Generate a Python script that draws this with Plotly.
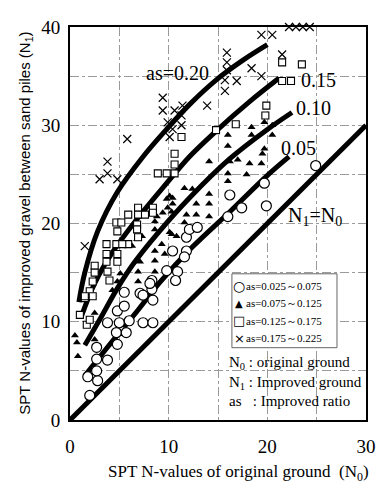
import plotly.graph_objects as go

# ---- data ----
circ_x = [2.0, 1.8, 2.8, 2.7, 2.7, 3.8, 2.7, 4.8, 5.1, 3.8, 5.0, 6.0, 7.4, 8.4, 4.7, 5.7, 4.8, 5.5, 7.1, 8.4,
          5.5, 7.4, 8.3, 8.3, 9.8, 10.9, 10.7, 10.4, 11.8, 11.8, 12.1, 12.9, 11.6, 16.0, 16.2, 17.4, 19.7, 19.9, 24.9, 8.1]
circ_y = [2.5, 4.4, 4.0, 5.0, 6.2, 6.1, 7.4, 7.7, 9.1, 9.9, 9.9, 10.1, 9.9, 9.9, 8.9, 8.9, 11.1, 11.6, 12.9, 12.2,
          13.0, 12.7, 13.3, 14.2, 15.2, 15.1, 14.2, 17.2, 17.2, 18.6, 19.4, 19.6, 16.6, 20.7, 22.9, 21.6, 24.1, 21.8, 25.9, 13.9]

tri_x = [0.5, 0.7, 0.8, 2.5, 2.5, 4.3, 4.8, 5.1, 6.9, 6.9, 7.1, 8.6, 8.6, 8.6, 9.6, 9.3, 6.3, 6.8, 7.3, 10.3,
         10.8, 8.6, 10.1, 8.6, 8.8, 9.4, 9.9, 10.3, 10.4, 9.8, 10.1, 10.4, 11.8, 11.6, 12.8, 14.1, 12.8, 14.1, 14.1, 11.6,
         12.4, 14.1, 16.2, 17.0, 18.2, 19.4, 16.0, 17.9, 16.0, 16.0, 16.0, 18.4, 18.4, 19.7, 19.7, 19.5, 20.5, 20.5]
tri_y = [8.6, 7.9, 6.5, 10.9, 8.2, 13.2, 14.1, 14.9, 14.1, 15.1, 16.1, 15.1, 16.2, 17.2, 16.9, 17.9, 17.7, 18.4, 18.7, 18.9,
         18.7, 19.4, 19.1, 20.2, 20.7, 21.1, 21.6, 21.2, 22.0, 22.5, 22.8, 22.6, 20.9, 20.1, 20.9, 20.7, 22.0, 22.0, 23.0, 23.6,
         23.5, 26.3, 26.3, 26.5, 26.1, 26.1, 25.1, 25.0, 24.3, 29.0, 27.9, 29.8, 29.0, 30.3, 27.6, 27.1, 30.0, 29.0]

sq_x = [21.5, 23.5, 21.5, 22.4, 19.9, 19.8, 16.8, 14.8, 11.3, 10.6, 10.6, 8.9, 9.8, 10.6, 6.9, 8.4, 8.4, 5.9, 6.9, 7.6,
        4.7, 5.2, 6.8, 4.8, 6.8, 6.9, 3.7, 4.7, 5.9, 5.3, 3.7, 4.8, 3.7, 4.8, 2.5, 3.8, 2.5, 2.3, 4.0, 2.0,
        1.5, 1.0, 1.7, 2.0, 1.5, 2.3]
sq_y = [36.4, 36.2, 34.5, 34.5, 32.0, 31.0, 30.1, 29.5, 28.8, 27.1, 26.0, 25.1, 25.1, 25.1, 21.6, 21.6, 21.1, 20.9, 20.9, 20.9,
        20.1, 20.1, 19.9, 19.2, 19.4, 18.6, 17.9, 17.9, 17.9, 17.9, 16.9, 16.9, 16.1, 16.1, 15.7, 15.1, 15.0, 14.1, 14.2, 13.1,
        12.4, 10.7, 9.7, 10.2, 12.6, 12.6]

xm_x = [1.5, 3.0, 3.8, 3.8, 4.8, 5.8, 9.4, 9.4, 10.6, 11.4, 11.3, 9.9, 11.3, 10.4, 10.1, 13.9, 15.9, 15.9, 15.9, 15.7,
        16.9, 15.7, 18.4, 19.4, 19.4, 20.5, 21.5, 22.2, 22.9, 23.6, 24.3]
xm_y = [17.7, 24.5, 25.1, 26.3, 24.5, 28.6, 32.8, 31.5, 31.5, 32.0, 31.0, 30.3, 30.0, 29.6, 28.8, 32.0, 37.4, 36.4, 35.6, 34.6,
        34.5, 33.5, 35.8, 35.0, 39.2, 39.2, 37.2, 40.0, 40.0, 40.0, 40.0]

# curves for each improvement ratio
c20_x = [0.9, 1.5, 2.8, 4.8, 7.4, 9.8, 12.1, 14.8, 17.5, 20.0]
c20_y = [12.0, 15.0, 19.2, 23.2, 26.8, 29.6, 32.1, 34.6, 36.6, 38.2]
c15_x = [1.1, 2.5, 4.2, 6.6, 9.8, 12.1, 14.8, 18.2, 21.2]
c15_y = [10.4, 13.9, 16.9, 20.2, 24.1, 26.8, 29.4, 32.4, 34.8]
c10_x = [1.5, 3.0, 4.8, 6.5, 8.8, 12.1, 16.2, 19.9, 22.5]
c10_y = [7.6, 10.2, 13.4, 16.0, 18.9, 22.6, 26.6, 29.5, 31.3]
c05_x = [1.5, 3.8, 6.9, 9.1, 12.4, 16.2, 19.9, 22.2]
c05_y = [4.5, 7.4, 11.2, 14.0, 17.6, 21.2, 24.8, 26.8]
eq_x = [0, 30]
eq_y = [0, 30]

legend_symbols = ["○", "▲", "□", "×"]
legend_sym_sizes = [14, 10, 13, 13]
legend_names = ["as=0.025～0.075", "as=0.075～0.125", "as=0.125～0.175", "as=0.175～0.225"]
curve_labels = ["as=0.20", "0.15", "0.10", "0.05"]
x_ticks = [0, 5, 10, 15, 20, 25, 30]
x_ticktext = ["0", "", "10", "", "20", "", "30"]
y_ticks = [0, 5, 10, 15, 20, 25, 30, 35, 40]
y_ticktext = ["0", "", "10", "", "20", "", "30", "", "40"]

SERIF = "Liberation Serif, Times New Roman, serif"

fig = go.Figure()

for cx, cy in [(c20_x, c20_y), (c15_x, c15_y), (c10_x, c10_y), (c05_x, c05_y), (eq_x, eq_y)]:
    fig.add_trace(go.Scatter(x=cx, y=cy, mode="lines", line=dict(color="black", width=5, shape="spline", smoothing=1.0),
                             showlegend=False, hoverinfo="skip"))

fig.add_trace(go.Scatter(x=circ_x, y=circ_y, mode="markers", name=legend_names[0],
                         marker=dict(symbol="circle", size=10, color="white", line=dict(color="black", width=1.2))))
fig.add_trace(go.Scatter(x=tri_x, y=tri_y, mode="markers", name=legend_names[1],
                         marker=dict(symbol="triangle-up", size=7, color="black")))
fig.add_trace(go.Scatter(x=sq_x, y=sq_y, mode="markers", name=legend_names[2],
                         marker=dict(symbol="square", size=7, color="white", line=dict(color="black", width=1.1))))
fig.add_trace(go.Scatter(x=xm_x, y=xm_y, mode="markers", name=legend_names[3], cliponaxis=False,
                         marker=dict(symbol="x-thin-open", size=8, color="black", line=dict(color="black", width=1.2))))

# curve labels
lab_pos = [(10.9, 35.3), (25.2, 34.6), (24.7, 31.8), (23.2, 27.7)]
for t, (lx, ly) in zip(curve_labels, lab_pos):
    fig.add_annotation(x=lx, y=ly, text=t, showarrow=False, font=dict(family=SERIF, size=20, color="black"))
fig.add_annotation(x=24.8, y=20.7, text="N<sub>1</sub>=N<sub>0</sub>", showarrow=False,
                   font=dict(family=SERIF, size=20, color="black"))

# hand-made legend box
fig.add_shape(type="rect", xref="paper", yref="paper", x0=0.547, x1=0.902, y0=0.184, y1=0.372,
              line=dict(color="#666", width=1), fillcolor="white", layer="above")
for i, (s, ss, n) in enumerate(zip(legend_symbols, legend_sym_sizes, legend_names)):
    yy = 0.342 - i * 0.0447
    fig.add_annotation(xref="paper", yref="paper", x=0.571, y=yy, xanchor="center", yanchor="middle",
                       text=s, showarrow=False, font=dict(family="DejaVu Sans", size=ss, color="black"))
    fig.add_annotation(xref="paper", yref="paper", x=0.588, y=yy, xanchor="left", yanchor="middle",
                       text=n, showarrow=False, font=dict(family=SERIF, size=11, color="black"))

fig.add_annotation(xref="paper", yref="paper", x=0.53, y=0.172, xanchor="left", yanchor="top", align="left",
                   text="N<sub>0</sub> : original ground<br>N<sub>1</sub> : Improved ground<br>as&nbsp;&nbsp;&nbsp;: Improved ratio",
                   showarrow=False, font=dict(family=SERIF, size=15, color="black"))

fig.add_annotation(xref="paper", yref="paper", x=-0.19, y=0.50, textangle=-90, showarrow=False,
                   text="SPT N-values of improved gravel between sand piles (N<sub>1</sub>)",
                   font=dict(family="Liberation Sans, Arial, sans-serif", size=15, color="black"))
fig.add_annotation(xref="paper", yref="paper", x=0.57, y=-0.135, showarrow=False, yanchor="middle",
                   text="SPT N-values of original ground  (N<sub>0</sub>)",
                   font=dict(family=SERIF, size=17, color="black"))

axis_common = dict(showline=True, linecolor="black", linewidth=2, mirror=True, zeroline=False,
                   showgrid=True, gridcolor="#9a9a9a", gridwidth=1, griddash="dashdot", ticks="",
                   tickfont=dict(family=SERIF, size=19, color="black"))
fig.update_xaxes(range=[0, 30], tickvals=x_ticks, ticktext=x_ticktext, ticklabelstandoff=8, **axis_common)
fig.update_yaxes(range=[0, 40], tickvals=y_ticks, ticktext=y_ticktext, ticklabelstandoff=4, **axis_common)

# page body has an 8px margin, so the figure is 8px smaller and its margins are shifted accordingly
fig.update_layout(
    width=377, height=483,
    margin=dict(l=62, r=19, t=9, b=71),
    paper_bgcolor="white", plot_bgcolor="white",
    showlegend=False,
)

fig.write_html("out.html")
